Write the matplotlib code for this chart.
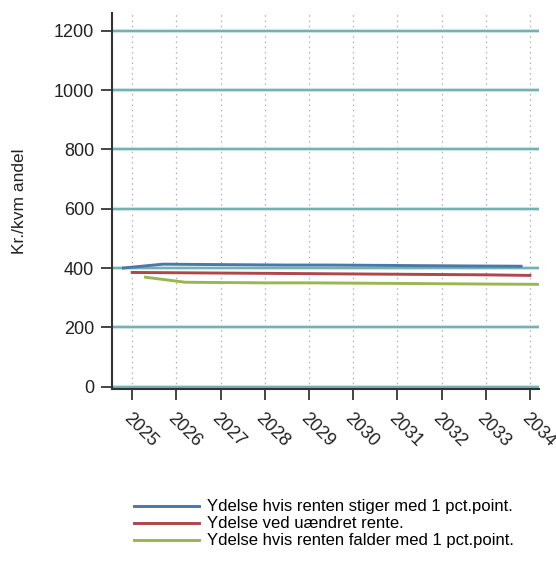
import matplotlib
matplotlib.use("Agg")
import matplotlib.pyplot as plt

plt.rcParams['font.family'] = ['Liberation Sans', 'DejaVu Sans']

years = [2025, 2026, 2027, 2028, 2029, 2030, 2031, 2032, 2033, 2034]
yticks = [0, 200, 400, 600, 800, 1000, 1200]

t_up = [2024.8, 2025.7, 2026.5, 2027.5, 2028.5, 2029.5, 2030.5, 2031.5, 2032.5, 2033.8]
v_up = [400, 413, 412, 411, 410, 410, 409, 408, 407, 406]

t_same = [2025.0, 2026.0, 2027.0, 2028.0, 2029.0, 2030.0, 2031.0, 2032.0, 2033.0, 2034.0]
v_same = [385, 384, 383, 382, 381, 380, 379, 378, 377, 375]

t_down = [2025.3, 2026.2, 2027.0, 2028.0, 2029.0, 2030.0, 2031.0, 2032.0, 2033.0, 2034.2]
v_down = [369, 352, 351, 350, 350, 349, 348, 347, 346, 345]

labels = ["Ydelse hvis renten stiger med 1 pct.point.",
          "Ydelse ved uændret rente.",
          "Ydelse hvis renten falder med 1 pct.point."]
colors = ["#4a78a8", "#b0454a", "#9ab653"]

fig = plt.figure(figsize=(5.56, 5.63), dpi=100)
ax = fig.add_axes([0.202, 0.3085, 0.767, 0.6685])

for y in yticks:
    ax.axhline(y, color="#c8e6e6", lw=3.0, zorder=1)
    ax.axhline(y, color="#66a6a6", lw=1.2, zorder=1.1)
for x in years:
    ax.axvline(x, color="#b0b0b0", lw=0.9, ls=(0, (1.2, 3)), zorder=0.9)

ax.plot(t_up, v_up, color=colors[0], lw=2.1, label=labels[0], zorder=3)
ax.plot(t_same, v_same, color=colors[1], lw=2.1, label=labels[1], zorder=3)
ax.plot(t_down, v_down, color=colors[2], lw=2.1, label=labels[2], zorder=3)

ax.set_xlim(2024.55, 2034.2)
ax.set_ylim(-9, 1260)
ax.set_xticks(years)
ax.set_xticklabels([str(y) for y in years], rotation=-45, ha='left', va='top',
                   rotation_mode='anchor', fontsize=13, color="#222222")
ax.set_yticks(yticks)
ax.set_yticklabels([str(y) for y in yticks], fontsize=13, color="#222222")
ax.tick_params(axis='both', direction='out', length=8, width=1.4, color="#444444")
ax.tick_params(axis='x', pad=7)
ax.tick_params(axis='y', pad=5)

for s in ['top', 'right']:
    ax.spines[s].set_visible(False)
for s in ['left', 'bottom']:
    ax.spines[s].set_color("#333333")
    ax.spines[s].set_linewidth(1.5)

ax.set_ylabel("Kr./kvm andel", fontsize=12.5, color="#222222", labelpad=19)

handles, labs = ax.get_legend_handles_labels()
fig.legend(handles, labs, loc='upper left', bbox_to_anchor=(0.2412, 0.113),
           bbox_transform=fig.transFigure, frameon=False, fontsize=12,
           handlelength=3.9, handletextpad=0.45, labelspacing=0.12,
           borderaxespad=0.0, borderpad=0.0)

fig.savefig("out.png", dpi=100)
